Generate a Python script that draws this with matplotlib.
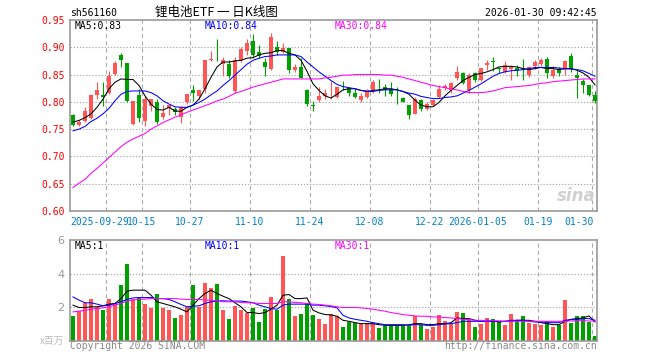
import matplotlib
matplotlib.use("Agg")
import matplotlib.pyplot as plt
import numpy as np

# daily K-line data, 2025-09-19 .. 2026-01-30 (88 sessions)
opens = [0.775, 0.758, 0.765, 0.770, 0.812, 0.812, 0.817, 0.851, 0.885, 0.871,
         0.759, 0.812, 0.765, 0.793, 0.800, 0.773, 0.789, 0.787, 0.773, 0.800,
         0.822, 0.810, 0.824, 0.877, 0.877, 0.869, 0.869, 0.820, 0.876, 0.894,
         0.912, 0.892, 0.873, 0.861, 0.901, 0.892, 0.899, 0.858, 0.864, 0.822,
         0.794, 0.803, 0.811, 0.814, 0.808, 0.831, 0.826, 0.817, 0.803, 0.808,
         0.821, 0.831, 0.827, 0.824, 0.815, 0.807, 0.794, 0.778, 0.803, 0.786,
         0.794, 0.808, 0.826, 0.821, 0.844, 0.853, 0.822, 0.852, 0.840, 0.867,
         0.875, 0.861, 0.855, 0.860, 0.862, 0.861, 0.849, 0.865, 0.869, 0.879,
         0.847, 0.861, 0.859, 0.884, 0.849, 0.838, 0.830, 0.812]
highs = [0.777, 0.766, 0.790, 0.814, 0.836, 0.836, 0.857, 0.874, 0.890, 0.871,
         0.801, 0.824, 0.811, 0.806, 0.805, 0.794, 0.796, 0.790, 0.793, 0.814,
         0.830, 0.822, 0.876, 0.894, 0.916, 0.882, 0.877, 0.882, 0.901, 0.915,
         0.925, 0.904, 0.880, 0.927, 0.911, 0.908, 0.899, 0.870, 0.880, 0.824,
         0.802, 0.827, 0.824, 0.839, 0.828, 0.839, 0.827, 0.824, 0.817, 0.824,
         0.840, 0.842, 0.832, 0.836, 0.827, 0.809, 0.794, 0.808, 0.805, 0.799,
         0.805, 0.830, 0.832, 0.836, 0.865, 0.855, 0.852, 0.855, 0.862, 0.876,
         0.883, 0.864, 0.875, 0.867, 0.867, 0.878, 0.865, 0.876, 0.880, 0.883,
         0.865, 0.864, 0.876, 0.889, 0.861, 0.842, 0.830, 0.819]
lows = [0.755, 0.755, 0.763, 0.768, 0.806, 0.793, 0.814, 0.849, 0.863, 0.799,
        0.757, 0.764, 0.755, 0.784, 0.759, 0.768, 0.775, 0.775, 0.762, 0.796,
        0.802, 0.805, 0.817, 0.874, 0.875, 0.848, 0.843, 0.817, 0.873, 0.886,
        0.880, 0.880, 0.847, 0.859, 0.886, 0.889, 0.852, 0.855, 0.844, 0.793,
        0.783, 0.799, 0.805, 0.805, 0.807, 0.821, 0.811, 0.807, 0.799, 0.807,
        0.817, 0.817, 0.811, 0.811, 0.796, 0.799, 0.768, 0.777, 0.783, 0.785,
        0.793, 0.807, 0.821, 0.817, 0.840, 0.833, 0.817, 0.836, 0.839, 0.859,
        0.856, 0.852, 0.853, 0.840, 0.847, 0.840, 0.845, 0.861, 0.865, 0.844,
        0.844, 0.847, 0.849, 0.855, 0.807, 0.817, 0.811, 0.797]
closes = [0.757, 0.764, 0.784, 0.812, 0.822, 0.808, 0.848, 0.871, 0.877, 0.802,
          0.801, 0.771, 0.806, 0.806, 0.764, 0.779, 0.794, 0.782, 0.790, 0.814,
          0.817, 0.822, 0.876, 0.879, 0.876, 0.877, 0.847, 0.877, 0.896, 0.907,
          0.886, 0.884, 0.863, 0.919, 0.892, 0.899, 0.859, 0.863, 0.844, 0.796,
          0.793, 0.811, 0.817, 0.815, 0.827, 0.830, 0.817, 0.808, 0.811, 0.821,
          0.836, 0.830, 0.822, 0.814, 0.814, 0.799, 0.776, 0.806, 0.786, 0.796,
          0.803, 0.824, 0.829, 0.834, 0.855, 0.834, 0.850, 0.840, 0.862, 0.871,
          0.873, 0.860, 0.867, 0.863, 0.857, 0.860, 0.864, 0.873, 0.876, 0.852,
          0.859, 0.852, 0.875, 0.861, 0.844, 0.831, 0.812, 0.802]

ma5 = [0.763, 0.766, 0.771, 0.778, 0.790, 0.805, 0.824, 0.836, 0.842, 0.841,
       0.841, 0.830, 0.811, 0.796, 0.786, 0.785, 0.790, 0.783, 0.783, 0.790,
       0.794, 0.805, 0.824, 0.845, 0.864, 0.873, 0.873, 0.875, 0.876, 0.880,
       0.881, 0.886, 0.889, 0.890, 0.894, 0.894, 0.889, 0.886, 0.876, 0.856,
       0.833, 0.821, 0.811, 0.807, 0.814, 0.822, 0.824, 0.824, 0.821, 0.819,
       0.821, 0.822, 0.824, 0.824, 0.822, 0.819, 0.814, 0.803, 0.794, 0.791,
       0.791, 0.799, 0.811, 0.821, 0.830, 0.839, 0.845, 0.850, 0.852, 0.855,
       0.859, 0.864, 0.865, 0.865, 0.864, 0.861, 0.859, 0.861, 0.863, 0.861,
       0.861, 0.859, 0.861, 0.861, 0.858, 0.853, 0.845, 0.831]
ma10 = [0.747, 0.750, 0.755, 0.764, 0.770, 0.778, 0.788, 0.802, 0.814, 0.819,
        0.820, 0.820, 0.820, 0.817, 0.811, 0.802, 0.796, 0.791, 0.790, 0.790,
        0.794, 0.799, 0.805, 0.813, 0.820, 0.830, 0.839, 0.849, 0.859, 0.869,
        0.876, 0.880, 0.883, 0.884, 0.886, 0.886, 0.886, 0.886, 0.883, 0.873,
        0.864, 0.855, 0.847, 0.839, 0.832, 0.828, 0.826, 0.824, 0.821, 0.819,
        0.819, 0.821, 0.822, 0.822, 0.822, 0.819, 0.816, 0.814, 0.810, 0.808,
        0.806, 0.806, 0.808, 0.809, 0.811, 0.816, 0.821, 0.827, 0.833, 0.840,
        0.847, 0.852, 0.855, 0.857, 0.858, 0.859, 0.861, 0.863, 0.863, 0.863,
        0.863, 0.862, 0.861, 0.860, 0.859, 0.857, 0.852, 0.847]
ma30 = [0.643, 0.651, 0.658, 0.669, 0.678, 0.688, 0.698, 0.708, 0.718, 0.726,
        0.732, 0.737, 0.742, 0.750, 0.756, 0.762, 0.767, 0.772, 0.776, 0.781,
        0.785, 0.789, 0.793, 0.797, 0.802, 0.805, 0.810, 0.816, 0.819, 0.823,
        0.827, 0.830, 0.833, 0.836, 0.839, 0.842, 0.842, 0.842, 0.842, 0.842,
        0.842, 0.842, 0.844, 0.845, 0.847, 0.849, 0.849, 0.850, 0.850, 0.850,
        0.850, 0.850, 0.849, 0.849, 0.847, 0.845, 0.842, 0.839, 0.836, 0.833,
        0.830, 0.828, 0.826, 0.823, 0.822, 0.819, 0.817, 0.817, 0.817, 0.818,
        0.820, 0.823, 0.826, 0.827, 0.828, 0.829, 0.830, 0.832, 0.834, 0.835,
        0.837, 0.838, 0.839, 0.840, 0.841, 0.842, 0.842, 0.842]

# volume, millions
volume = [1.47, 1.77, 2.23, 2.49, 2.03, 1.83, 2.49, 2.23, 3.32, 4.57,
          2.52, 2.58, 2.19, 1.97, 2.78, 1.97, 1.83, 1.37, 1.53, 2.03,
          3.32, 2.03, 3.46, 3.12, 3.38, 1.83, 1.29, 2.09, 1.83, 1.67,
          1.97, 1.13, 1.93, 2.62, 1.83, 5.07, 2.49, 1.49, 1.59, 2.23,
          1.53, 1.29, 0.99, 1.58, 1.47, 0.83, 1.13, 1.07, 0.99, 1.07,
          1.03, 0.78, 0.89, 0.93, 0.93, 0.89, 0.89, 1.49, 0.97, 0.70,
          0.83, 1.53, 1.17, 1.03, 1.73, 1.67, 1.23, 0.83, 0.99, 1.37,
          1.29, 1.17, 0.97, 1.59, 1.23, 1.47, 1.09, 1.03, 0.93, 1.17,
          0.83, 0.97, 2.43, 1.07, 1.47, 1.47, 1.13, 0.28]
vol_ma5 = [2.13, 1.99, 1.99, 2.03, 2.03, 2.09, 2.19, 2.23, 2.52, 2.96,
           3.02, 3.02, 3.02, 2.72, 2.33, 2.23, 2.13, 2.03, 1.89, 1.73,
           2.13, 2.52, 2.82, 3.02, 2.82, 2.66, 2.52, 2.27, 2.03, 1.69,
           1.69, 1.63, 1.69, 1.89, 2.13, 2.72, 2.76, 2.52, 2.52, 2.56,
           1.83, 1.67, 1.57, 1.55, 1.47, 1.23, 1.17, 1.09, 1.03, 1.03,
           1.03, 0.97, 0.93, 0.93, 0.93, 0.93, 0.97, 1.03, 1.03, 0.97,
           0.97, 1.03, 1.03, 1.09, 1.37, 1.33, 1.33, 1.23, 1.17, 1.23,
           1.17, 1.13, 1.17, 1.17, 1.23, 1.23, 1.23, 1.17, 1.09, 1.03,
           0.97, 0.97, 1.17, 1.29, 1.33, 1.37, 1.49, 1.13]
vol_ma10 = [2.62, 2.43, 2.27, 2.27, 2.19, 2.09, 2.13, 2.23, 2.33, 2.47,
            2.56, 2.58, 2.58, 2.58, 2.52, 2.52, 2.47, 2.33, 2.17, 2.03,
            2.07, 2.09, 2.23, 2.33, 2.37, 2.39, 2.37, 2.37, 2.37, 2.33,
            2.27, 2.13, 2.03, 1.93, 1.89, 2.13, 2.19, 2.19, 2.19, 2.19,
            2.13, 2.13, 2.09, 2.05, 1.97, 1.53, 1.37, 1.29, 1.23, 1.17,
            1.09, 1.03, 0.97, 0.97, 0.97, 0.97, 0.93, 0.97, 0.97, 0.93,
            0.93, 0.97, 1.01, 1.03, 1.09, 1.17, 1.17, 1.17, 1.17, 1.17,
            1.17, 1.17, 1.17, 1.23, 1.23, 1.23, 1.17, 1.13, 1.13, 1.09,
            1.09, 1.09, 1.23, 1.27, 1.27, 1.33, 1.33, 1.23]
vol_ma30 = [1.73, 1.77, 1.83, 1.89, 1.93, 1.97, 2.03, 2.13, 2.23, 2.37,
            2.43, 2.47, 2.49, 2.52, 2.52, 2.52, 2.52, 2.52, 2.49, 2.47,
            2.47, 2.47, 2.43, 2.43, 2.37, 2.33, 2.33, 2.33, 2.29, 2.27,
            2.27, 2.23, 2.23, 2.23, 2.23, 2.33, 2.33, 2.29, 2.27, 2.23,
            2.19, 2.17, 2.13, 2.09, 2.03, 1.99, 1.99, 1.99, 1.97, 1.93,
            1.89, 1.83, 1.77, 1.69, 1.63, 1.57, 1.53, 1.49, 1.47, 1.47,
            1.43, 1.43, 1.39, 1.37, 1.33, 1.29, 1.27, 1.23, 1.23, 1.21,
            1.21, 1.19, 1.17, 1.17, 1.17, 1.17, 1.17, 1.17, 1.17, 1.17,
            1.17, 1.17, 1.17, 1.19, 1.19, 1.21, 1.19, 1.17]

date_labels = ["2025-09-29", "10-15", "10-27", "11-10", "11-24",
               "12-08", "12-22", "2026-01-05", "01-19", "01-30"]
date_index = [6, 12, 20, 30, 40, 50, 60, 68, 78, 87]
price_ticks = [0.60, 0.65, 0.70, 0.75, 0.80, 0.85, 0.90, 0.95]
vol_ticks = [2, 4, 6]

UP, DOWN = "#ff5555", "#00a000"
GRID = "#aaaaaa"
MONO = "DejaVu Sans Mono"
W, H = 660, 360


def px(x, y):
    return x / W, 1 - y / H


o, h, l, c = map(np.array, (opens, highs, lows, closes))
x = np.arange(len(closes))
colors = np.where(c >= o, UP, DOWN)

fig = plt.figure(figsize=(6.6, 3.6), dpi=100)
ax = fig.add_axes([70 / W, 1 - 211 / H, 527 / W, 191 / H])
axv = fig.add_axes([70 / W, 1 - 341 / H, 527 / W, 101 / H])

for a in (ax, axv):
    a.set_xlim(-0.5, len(closes) - 0.67)
    for s in a.spines.values():
        s.set_color("#999999")
        s.set_linewidth(1.2)
    a.set_xticks([])
    a.tick_params(length=0)
    for d in date_index:
        a.axvline(d - 0.5, color=GRID, lw=0.8, dashes=(3.6, 2.9), zorder=0)

# candles
ax.vlines(x, l, h, colors=colors, lw=0.8, zorder=2)
body = np.maximum(np.abs(c - o), 0.0012)
ax.bar(x, body, bottom=np.minimum(o, c), width=0.75, color=colors,
       edgecolor="none", zorder=3)
ax.plot(x, ma5, color="black", lw=0.75, zorder=4)
ax.plot(x, ma10, color="#0000ff", lw=0.75, zorder=4)
ax.plot(x, ma30, color="#ff00ff", lw=0.75, zorder=4)
ax.set_ylim(0.60, 0.95)
ax.set_yticks(price_ticks)
ax.set_yticklabels([f"{t:.2f}" for t in price_ticks], color="#ff0000",
                   family=MONO, fontsize=7)
ax.tick_params(axis="y", pad=4)
for t in price_ticks[1:-1]:
    ax.axhline(t, color=GRID, lw=0.8, linestyle=(0, (1.2, 1.6)), zorder=0)

# first label shifted left so it clears "10-15"
for d, lab in zip(date_index, date_labels):
    xpos, ha = d - 0.5, "center"
    if lab == date_labels[-1]:
        xpos, ha = d - 0.2, "right"
    elif lab == date_labels[0]:
        xpos, ha = d + 3.3, "right"
    ax.text(xpos, -0.058, lab, transform=ax.get_xaxis_transform(), ha=ha,
            va="center", color="#0080cc", family=MONO, fontsize=7)

# volume
axv.bar(x, volume, width=0.8, color=colors, edgecolor="none", zorder=2)
axv.plot(x, vol_ma5, color="black", lw=0.75, zorder=3)
axv.plot(x, vol_ma10, color="#0000ff", lw=0.75, zorder=3)
axv.plot(x, vol_ma30, color="#ff00ff", lw=0.75, zorder=3)
axv.set_ylim(0, 6)
axv.set_yticks(vol_ticks)
axv.set_yticklabels([str(t) for t in vol_ticks], color="#999999", fontsize=8)
axv.tick_params(axis="y", pad=4)
for t in vol_ticks[:-1]:
    axv.axhline(t, color=GRID, lw=0.8, linestyle=(0, (1.2, 1.6)), zorder=0)

# header and labels
fig.text(*px(70, 13), "sh561160", family=MONO, fontsize=7, va="center")
fig.text(*px(216, 12), "锂电池ETF 一 日K线图", fontsize=9, va="center",
         ha="center", family=["Noto Sans CJK SC", "DejaVu Sans"])
fig.text(*px(597, 13), "2026-01-30 09:42:45", family=MONO, fontsize=7,
         va="center", ha="right")
for xp, txt, col in [(75, "MA5:0.83", "black"), (205, "MA10:0.84", "#0000ff"),
                     (335, "MA30:0.84", "#ff00ff")]:
    fig.text(*px(xp, 26), txt, color=col, family=MONO, fontsize=7, va="center")
for xp, txt, col in [(75, "MA5:1", "black"), (205, "MA10:1", "#0000ff"),
                     (335, "MA30:1", "#ff00ff")]:
    fig.text(*px(xp, 246), txt, color=col, family=MONO, fontsize=7, va="center")

fig.text(*px(596, 196), "sina", color="#d0d0d0", fontsize=12, style="italic",
         weight="bold", ha="right", va="center")
fig.text(*px(64, 341), "x百万", color="#bbbbbb", fontsize=7, ha="right",
         va="center", family=["Noto Sans CJK SC", "DejaVu Sans"])
fig.text(*px(70, 346), "Copyright 2026 SINA.COM", color="#888888",
         family=MONO, fontsize=7, va="center")
fig.text(*px(597, 346), "http://finance.sina.com.cn", color="#888888",
         family=MONO, fontsize=7, va="center", ha="right")

fig.savefig("out.png", dpi=100)
plt.close(fig)
